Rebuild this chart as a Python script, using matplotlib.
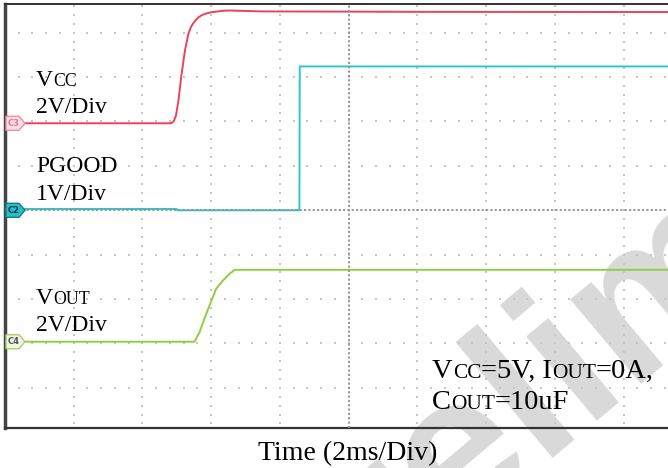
import numpy as np
import matplotlib
matplotlib.use("Agg")
import matplotlib.pyplot as plt
from matplotlib.patches import Polygon
from matplotlib.transforms import IdentityTransform

W, H = 668, 468

# scope settings
T_DIV = 2.0          # ms / div
VCC_SCALE, VCC_OFF = 2.0, 1.96     # V/div, offset in div
PG_SCALE, PG_OFF = 1.0, 0.0
VOUT_SCALE, VOUT_OFF = 2.0, -2.96

# traces (time in ms, volts)
vcc_t = [0.0, 4.80, 4.86, 4.92, 4.98, 5.05, 5.13, 5.24, 5.34, 5.42, 5.48, 5.56,
         5.63, 5.74, 5.87, 6.00, 6.16, 6.35, 6.55, 6.99, 7.42, 12.0, 19.4]
vcc_v = [0.0, 0.0, 0.02, 0.1, 0.35, 1.0, 2.07, 3.27, 4.03, 4.35, 4.5, 4.66,
         4.77, 4.88, 4.95, 5.0, 5.03, 5.07, 5.08, 5.06, 5.04, 5.02, 5.01]

pg_t = [0.0, 5.0, 5.02, 8.57, 8.58, 19.4]
pg_v = [0.03, 0.03, 0.0, 0.0, 3.24, 3.24]

vout_t = [0.0, 5.52, 5.67, 5.81, 5.96, 6.15, 6.35, 6.54, 6.69, 19.4]
vout_v = [0.0, 0.0, 0.45, 1.05, 1.65, 2.39, 2.76, 3.06, 3.24, 3.24]

fig = plt.figure(figsize=(W / 100, H / 100), dpi=100)
x0, top, bot, xdiv = 4.8, 4.0, 428.0, 68.75
ax = fig.add_axes([x0 / W, 1 - bot / H, 10 * xdiv / W, (bot - top) / H])
ax.patch.set_visible(False)
ydiv = 44.4
yc = 210.3
ax.set_xlim(0, 10)
ax.set_ylim((yc - bot) / ydiv, (yc - top) / ydiv)
ax.set_xticks([])
ax.set_yticks([])
ax.spines["right"].set_visible(False)
ax.spines["left"].set_linewidth(2.5)
ax.spines["left"].set_color("#454545")
ax.spines["bottom"].set_linewidth(1.6)
ax.spines["bottom"].set_color("#333333")
ax.spines["top"].set_linewidth(1.4)
ax.spines["top"].set_color("#333333")

# watermark behind everything
fig.text(281, -206, "Preliminary", fontsize=150, family="Liberation Sans",
         fontweight="bold", color="#d9d9d9", rotation=40, rotation_mode="anchor",
         ha="left", va="baseline", transform=IdentityTransform(), zorder=-1)

# dotted graticule
minor_x = np.arange(0, 10.01, 0.2)
minor_y = np.arange(-4.8, 4.61, 0.2)
dot = dict(s=1.3, marker="s", color="#c6c6c6", linewidths=0, zorder=1)
for gy in [-4, -3, -2, -1, 1, 2, 3, 4]:
    ax.scatter(minor_x, np.full_like(minor_x, gy), **dot)
for gx in [1, 2, 3, 4, 6, 7, 8, 9]:
    ax.scatter(np.full_like(minor_y, gx), minor_y, **dot)

# traces
ax.plot(np.array(vcc_t) / T_DIV, np.array(vcc_v) / VCC_SCALE + VCC_OFF,
        color="#e8435e", lw=1.4, zorder=3)
ax.plot(np.array(pg_t) / T_DIV, np.array(pg_v) / PG_SCALE + PG_OFF,
        color="#2cc6ce", lw=1.4, zorder=3)
ax.plot(np.array(vout_t) / T_DIV, np.array(vout_v) / VOUT_SCALE + VOUT_OFF,
        color="#92cc44", lw=1.4, zorder=3)

# center cross
ax.axhline(0, color="#909090", lw=1.3, ls=(0, (1.2, 1.2)), zorder=4)
ax.axvline(5, color="#909090", lw=1.3, ls=(0, (1.2, 1.2)), zorder=4)

# channel tags at the left edge
tags = [("C3", VCC_OFF, "#fde3e9", "#f28ca2", "#f07090"),
        ("C2", PG_OFF, "#22c2c8", "#137c84", "#143050"),
        ("C4", VOUT_OFF, "#f0f7e6", "#a2d06a", "#505050")]
for name, off, fc, ec, tc in tags:
    py = ax.transData.transform((0, off))[1]
    verts = [(6, py - 7), (19, py - 7), (25, py), (19, py + 7), (6, py + 7)]
    fig.add_artist(Polygon(verts, closed=True, facecolor=fc, edgecolor=ec,
                           lw=1.0, transform=IdentityTransform(), zorder=5))
    fig.text(14, py, name, fontsize=6, color=tc, fontweight="bold",
             ha="center", va="center", transform=IdentityTransform(), zorder=6)

renderer = fig.canvas.get_renderer()
SERIF = "Liberation Serif"


def sc_text(x, y, parts, size):
    # parts: (string, small caps?) drawn one after another on one baseline
    for s, small in parts:
        t = fig.text(x, H - y, s, fontsize=size * (0.75 if small else 1.0),
                     family=SERIF, color="black", ha="left", va="baseline",
                     transform=IdentityTransform(), zorder=7)
        x = t.get_window_extent(renderer).x1


sc_text(36, 86, [("V", False), ("CC", True)], 17)
sc_text(36, 113, [("2V/Div", False)], 17)
sc_text(36, 172, [("PGOOD", False)], 17)
sc_text(36, 200, [("1V/Div", False)], 17)
sc_text(36, 304, [("V", False), ("OUT", True)], 17)
sc_text(36, 331, [("2V/Div", False)], 17)
sc_text(432, 378, [("V", False), ("CC", True), ("=5V, I", False), ("OUT", True),
                   ("=0A,", False)], 20.5)
sc_text(432, 409, [("C", False), ("OUT", True), ("=10uF", False)], 20.5)

fig.text(348, H - 460, "Time (2ms/Div)", fontsize=20, family=SERIF,
         ha="center", va="baseline", transform=IdentityTransform())

fig.savefig("out.png", dpi=100)
